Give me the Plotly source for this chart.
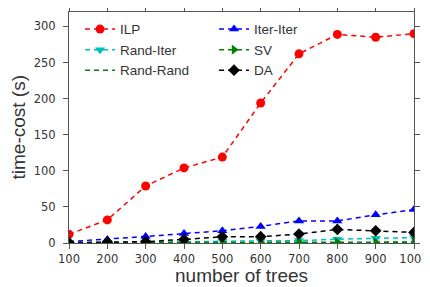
import plotly.graph_objects as go

trees = [100, 200, 300, 400, 500, 600, 700, 800, 900, 1000]
ilp = [12, 32, 79, 104, 119, 194, 262, 289, 285, 290]
iter_iter = [2, 5, 9, 13, 17, 23, 30.6, 30.6, 39, 46.3]
rand_iter = [0.3, 0.5, 0.8, 1.5, 2.5, 2.8, 3.3, 5.3, 6.5, 7.5]
sv = [0.3, 0.4, 0.5, 0.6, 0.8, 0.9, 1.0, 1.1, 1.2, 1.3]
rand_rand = [0.1, 0.15, 0.2, 0.25, 0.3, 0.35, 0.4, 0.45, 0.5, 0.55]
da = [0.5, 1.1, 1.8, 5, 8.7, 8.7, 12.4, 18.8, 17, 14.7]
x_title = "number of trees"
y_title = "time-cost (s)"

series = [
    ("ILP", ilp, "#ff0000", "circle", 9),
    ("Iter-Iter", iter_iter, "#0000ff", "triangle-up", 9),
    ("Rand-Iter", rand_iter, "#00bfbf", "triangle-down", 9),
    ("SV", sv, "#008000", "triangle-right", 9),
    ("Rand-Rand", rand_rand, "#008000", None, 0),
    ("DA", da, "#000000", "diamond", 9),
]

fig = go.Figure()
for name, vals, color, sym, size in series:
    if sym is None:
        fig.add_trace(go.Scatter(x=trees, y=vals, name=name, mode="lines",
                                 line=dict(color=color, width=1.5, dash="5px,4px")))
    else:
        fig.add_trace(go.Scatter(x=trees, y=vals, name=name, mode="lines+markers",
                                 line=dict(color=color, width=1.5, dash="5px,4px"),
                                 marker=dict(symbol=sym, size=size, color=color,
                                             line=dict(width=0))))

axis_common = dict(showgrid=False, zeroline=False, showline=True, linecolor="#555555",
                   linewidth=1, mirror="ticks", ticks="outside", ticklen=5, tickcolor="#555555",
                   automargin=False,
                   tickfont=dict(family="DejaVu Sans", size=11.5, color="#333333"))

title_font = dict(family="Liberation Sans, Arial", size=19, color="#333333")

fig.update_layout(
    width=422, height=279,
    margin=dict(l=61, r=16, t=4, b=44),
    plot_bgcolor="white", paper_bgcolor="white",
    xaxis=dict(range=[100, 1000], tickvals=trees, **axis_common),
    yaxis=dict(range=[0, 320], tickvals=[0, 50, 100, 150, 200, 250, 300], **axis_common,
               ticklabelstandoff=5),
    legend=dict(orientation="h", x=0.032, y=0.992, xanchor="left", yanchor="top",
                entrywidth=89, entrywidthmode="pixels", bgcolor="rgba(0,0,0,0)",
                font=dict(family="Liberation Sans, Arial", size=13.5, color="#333333"),
                tracegroupgap=0),
    showlegend=True,
    annotations=[
        dict(text=x_title, xref="paper", yref="paper", x=0.5, y=0, xanchor="center",
             yanchor="middle", yshift=-32, showarrow=False, font=title_font),
        dict(text=y_title, xref="paper", yref="paper", x=0, y=0.5, xanchor="center",
             yanchor="middle", xshift=-51, textangle=-90, showarrow=False, font=title_font),
    ],
)

fig.write_html("out.html")
